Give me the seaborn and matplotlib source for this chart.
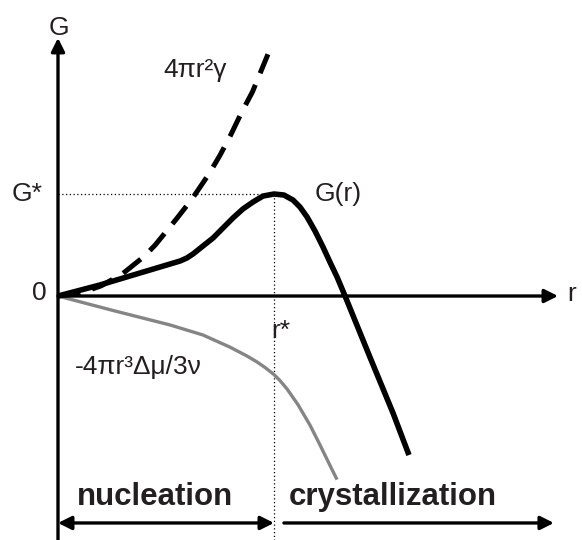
import numpy as np
import pandas as pd
import matplotlib
matplotlib.use("Agg")
import matplotlib.pyplot as plt
import seaborn as sns

# Free energy of a nucleus vs radius (r in units of r*, G in units of G*)
r_total = [0.0, 0.194, 0.287, 0.426, 0.565, 0.597, 0.625, 0.671, 0.718, 0.764,
           0.810, 0.856, 0.903, 0.949, 1.0, 1.046, 1.088, 1.120, 1.153, 1.190,
           1.227, 1.259, 1.292, 1.329, 1.444, 1.551, 1.625]
G_total = [0.0, 0.108, 0.167, 0.255, 0.343, 0.373, 0.412, 0.490, 0.569, 0.667,
           0.765, 0.853, 0.922, 0.980, 1.0, 0.990, 0.941, 0.873, 0.775, 0.637,
           0.480, 0.333, 0.186, 0.0, -0.598, -1.147, -1.559]

# Surface term 4*pi*r^2*gamma
r_surface = [0.0, 0.1, 0.2, 0.3, 0.4, 0.45, 0.5, 0.55, 0.62, 0.7, 0.75, 0.8,
             0.85, 0.9, 0.972]
G_surface = [0.0, 0.025, 0.1, 0.22, 0.39, 0.50, 0.63, 0.76, 0.95, 1.2, 1.38,
             1.58, 1.80, 2.0, 2.37]

# Volume term -4*pi*r^3*dmu/3v
r_volume = [0.0, 0.264, 0.519, 0.671, 0.796, 0.874, 0.921, 0.958, 1.0, 1.028,
            1.06, 1.111, 1.167, 1.213, 1.273, 1.292]
G_volume = [0.0, -0.147, -0.284, -0.382, -0.501, -0.587, -0.646, -0.700, -0.770,
            -0.830, -0.910, -1.065, -1.267, -1.460, -1.720, -1.800]

r_star, G_star = 1.0, 1.0

sns.set_style("white")
plt.rcParams["font.family"] = ["Liberation Sans", "DejaVu Sans"]
TXT = "#231f20"

fig = plt.figure(figsize=(5.82, 5.4), dpi=100)
ax = fig.add_axes([0, 0, 1, 1])
ax.set_xlim(-0.2685, 2.426)
ax.set_ylim(-2.392, 2.902)
ax.axis("off")

# guide lines marking the critical nucleus
ax.plot([0, r_star], [G_star, G_star], color="black", lw=0.9, linestyle=(0, (1, 2)))
ax.plot([r_star, r_star], [G_star, -2.392], color="black", lw=0.9, linestyle=(0, (1, 2)))

# coordinate axes with arrow heads
arrow = dict(arrowstyle="-|>", color="black", lw=2.4, mutation_scale=20,
             shrinkA=0, shrinkB=0)
ax.annotate("", xy=(0, 2.53), xytext=(0, -2.392), arrowprops=arrow)
ax.annotate("", xy=(2.315, 0), xytext=(0, 0), arrowprops=arrow)

# curves
sns.lineplot(x=r_volume, y=G_volume, sort=False, estimator=None, ax=ax,
             color="#858585", lw=2.4, solid_capstyle="butt", solid_joinstyle="round")
sns.lineplot(x=r_surface, y=G_surface, sort=False, estimator=None, ax=ax,
             color="black", lw=3.6, linestyle=(0, (4.5, 2.5)),
             dash_capstyle="butt", dash_joinstyle="round")
sns.lineplot(x=r_total, y=G_total, sort=False, estimator=None, ax=ax,
             color="black", lw=4.0, solid_capstyle="butt", solid_joinstyle="round")

# region arrows
ax.annotate("", xy=(r_star, -2.225), xytext=(0, -2.225),
            arrowprops=dict(arrowstyle="<|-|>", color="black", lw=2.4,
                            mutation_scale=20, shrinkA=0, shrinkB=0))
ax.annotate("", xy=(2.296, -2.225), xytext=(1.046, -2.225), arrowprops=arrow)

fs = 19
ax.text(0.005, 2.63, "G", fontsize=fs, color=TXT, ha="center", va="center")
ax.text(-0.069, G_star, "G*", fontsize=fs, color=TXT, ha="right", va="center")
ax.text(-0.051, 0.03, "0", fontsize=fs, color=TXT, ha="right", va="center")
ax.text(2.36, 0.02, "r", fontsize=fs, color=TXT, ha="left", va="center")
ax.text(0.634, 2.216, "4πr²γ", fontsize=fs, color=TXT, ha="center", va="center")
ax.text(1.19, 1.0, "G(r)", fontsize=fs, color=TXT, ha="left", va="center")
ax.text(1.03, -0.343, "r*", fontsize=fs, color=TXT, ha="center", va="center")
ax.text(0.079, -0.696, "-4πr³Δμ/3ν", fontsize=fs, color=TXT, ha="left", va="center")
ax.text(0.088, -1.97, "nucleation", fontsize=22.5, fontweight="bold", color=TXT,
        ha="left", va="center")
ax.text(1.069, -1.97, "crystallization", fontsize=22.5, fontweight="bold", color=TXT,
        ha="left", va="center")

fig.savefig("out.png", dpi=100)
